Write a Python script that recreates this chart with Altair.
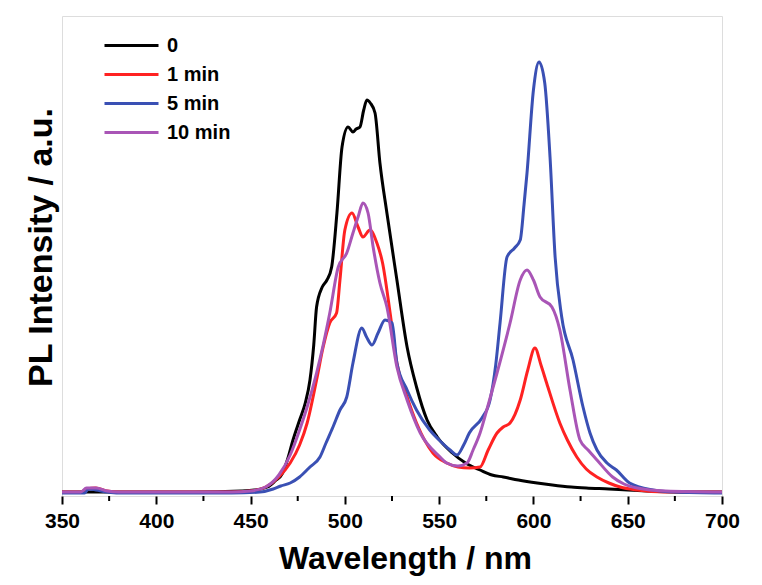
import altair as alt
import pandas as pd

series_names = ["0", "1 min", "5 min", "10 min"]
series_colors = ["#000000", "#FF2222", "#3A50B4", "#A955B6"]

black_nm = [350, 380, 420, 445, 452, 459, 463, 467, 470, 472.5, 476, 479, 481.5, 483.5, 485, 488, 490.5, 493, 495.8, 498.5, 501.7, 504.3, 506, 508, 510, 511.7, 513.5, 516, 518.6, 522.3, 527.6, 533, 538, 543.6, 549, 557, 564, 571.7, 578, 584, 592, 602, 610, 620, 628, 640, 650, 660, 680, 700]
black_I = [3, 3, 3, 4, 5, 8, 14, 22, 38, 55, 75, 92, 115, 150, 188, 208, 215, 228, 282, 348, 368, 363, 366, 368, 385, 395, 392, 382, 332, 282, 215, 148, 108, 75, 58, 42, 32, 25, 20, 18, 15, 12, 10, 8, 7, 6, 5, 4, 3, 3]

red_nm = [350, 360, 363, 368, 374, 380, 440, 450, 458, 465, 471, 476, 480, 485, 488.5, 492, 495.6, 497.4, 500, 503.8, 507, 509.6, 513.3, 517, 520, 524, 527.6, 533, 538, 546.7, 554, 560, 566, 571.7, 576, 580.7, 584, 587.6, 593, 597, 600.8, 604, 607, 614, 618, 623, 628, 633.7, 640, 646, 655, 670, 700]
red_I = [3, 3, 6, 7, 4, 3, 3, 4, 8, 18, 32, 50, 72, 115, 148, 172, 182, 215, 265, 282, 268, 258, 265, 252, 232, 182, 132, 98, 72, 42, 32, 28, 27, 28, 45, 62, 68, 72, 95, 125, 147, 130, 112, 72, 55, 38, 26, 18, 12, 8, 5, 3, 3]

blue_nm = [350, 362, 364, 368, 374, 380, 440, 455, 462, 466, 471, 476, 481.5, 486.8, 490, 493.7, 497.4, 501, 504.3, 509, 511.5, 514.4, 517.6, 521.3, 525, 527.6, 533, 538, 545, 550, 555.8, 559.5, 563, 566, 572.7, 577, 580, 582.3, 586, 590, 593, 595, 596.6, 600, 603, 606, 608.8, 611.5, 615, 621, 626.3, 630, 633.7, 639, 644, 651, 663.5, 675, 700]
blue_I = [2, 2, 6, 5, 3, 2, 2, 3, 6, 9, 12, 18, 28, 38, 52, 68, 85, 98, 132, 167, 158, 150, 162, 175, 172, 132, 105, 85, 65, 55, 45, 40, 50, 62, 77, 95, 130, 172, 238, 247, 255, 290, 322, 405, 433, 412, 338, 238, 178, 135, 88, 62, 45, 32, 25, 12, 5, 3, 2]

purple_nm = [350, 360, 363, 368, 374, 380, 440, 450, 458, 465, 471, 476, 480, 485, 488.5, 492, 496.5, 501, 504.3, 507, 509.6, 512.3, 515, 518.6, 522.3, 527.6, 533, 540, 550.5, 554, 560, 564.8, 568, 571.7, 576, 580.7, 587.6, 593, 596.6, 600, 603.5, 609.8, 614, 619.4, 624.7, 629, 633.7, 642, 648, 655, 670, 700]
purple_I = [3, 3, 7, 7, 4, 3, 3, 4, 8, 20, 40, 65, 88, 122, 150, 182, 228, 242, 262, 278, 292, 282, 248, 212, 188, 128, 95, 62, 38, 32, 29, 32, 45, 62, 90, 122, 172, 215, 225, 215, 198, 188, 165, 105, 55, 45, 35, 18, 11, 7, 4, 3]

major_ticks = [350, 400, 450, 500, 550, 600, 650, 700]
minor_ticks = [375, 425, 475, 525, 575, 625, 675]

rows = []
for name, xs, ys in [("0", black_nm, black_I), ("1 min", red_nm, red_I),
                     ("5 min", blue_nm, blue_I), ("10 min", purple_nm, purple_I)]:
    for i, (a, b) in enumerate(zip(xs, ys)):
        rows.append({"series": name, "nm": a, "I": b, "idx": i})
df = pd.DataFrame(rows)

FONT = "Liberation Sans"

xscale = alt.Scale(domain=[350, 700], nice=False, zero=False)
yscale = alt.Scale(domain=[-1, 479], nice=False, zero=False)

lines = alt.Chart(df).mark_line(strokeWidth=3, interpolate="monotone").encode(
    x=alt.X("nm:Q", scale=xscale,
            axis=alt.Axis(values=major_ticks, title="Wavelength / nm", format="d",
                          domain=False, grid=False, tickSize=8, tickWidth=2, tickColor="black",
                          labelFont=FONT, labelFontSize=21, labelFontWeight="bold", labelColor="black",
                          labelPadding=6, labelFlush=False,
                          titleFont=FONT, titleFontSize=32, titleFontWeight="bold", titleColor="black",
                          titleX=343, titleY=72, titleBaseline="alphabetic", titleAlign="center")),
    y=alt.Y("I:Q", scale=yscale,
            axis=alt.Axis(title="PL Intensity / a.u.", domain=False, grid=False, ticks=False, labels=False,
                          titleFont=FONT, titleFontSize=34, titleFontWeight="bold", titleColor="black",
                          titleX=-11, titleY=231, titleAngle=-90, titleAlign="center",
                          titleBaseline="alphabetic")),
    color=alt.Color("series:N", scale=alt.Scale(domain=series_names, range=series_colors),
                    legend=alt.Legend(title=None, orient="none", legendX=59, legendY=19,
                                      symbolType="M-3,0H3", symbolSize=324, symbolStrokeWidth=3,
                                      labelFont=FONT, labelFontSize=20, labelFontWeight="bold",
                                      labelColor="black", labelOffset=25, rowPadding=8, padding=0)),
    order=alt.Order("idx:Q"),
)

minor = alt.Chart(pd.DataFrame({"nm": minor_ticks})).mark_rule(color="black", strokeWidth=2).encode(
    x=alt.X("nm:Q", scale=xscale),
    y=alt.value(480),
    y2=alt.value(485),
)

chart = alt.layer(lines, minor).properties(
    width=660, height=480,
    autosize=alt.AutoSizeParams(type="none"),
    padding={"left": 54, "top": 8, "right": 32, "bottom": 81},
).configure_view(stroke="black", strokeWidth=2).configure(background="white")

chart.save("out.html", embed_options={"renderer": "svg", "actions": False})
